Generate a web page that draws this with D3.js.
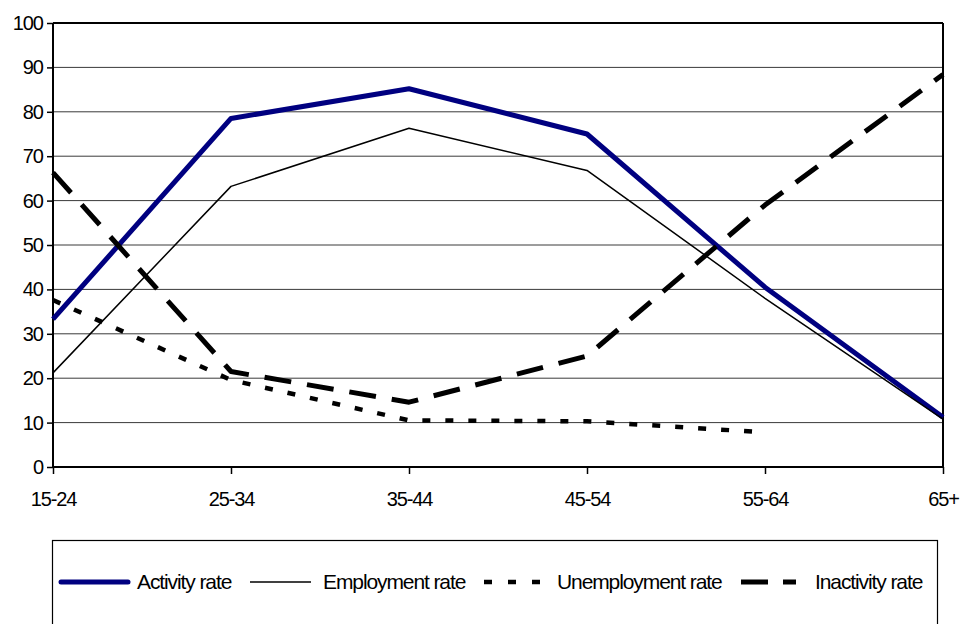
<!DOCTYPE html>
<html>
<head>
<meta charset="utf-8">
<script src="https://cdn.jsdelivr.net/npm/d3@7"></script>
<style>
  body { margin: 0; background: #fff; }
  svg { display: block; }
  text { font-family: "Liberation Sans", Arial, sans-serif; fill: #000; }
</style>
</head>
<body>
<svg width="960" height="624"></svg>
<script>
"use strict";

// data
const ageGroups = ["15-24", "25-34", "35-44", "45-54", "55-64", "65+"];
const activityRate = [33.3, 78.5, 85.2, 75.0, 40.5, 11.2];
const employmentRate = [21.2, 63.2, 76.3, 66.8, 38.0, 10.8];
const unemploymentRate = [37.6, 19.6, 10.5, 10.3, 7.8, null];
const inactivityRate = [66.3, 21.5, 14.6, 25.0, 59.0, 88.4];
const yTicks = [0, 10, 20, 30, 40, 50, 60, 70, 80, 90, 100];

const series = [
  {name: "Activity rate", values: activityRate, color: "#000080", width: 5, dash: null, lx: 61, lw: 67, tx: 137},
  {name: "Employment rate", values: employmentRate, color: "#000", width: 1.5, dash: null, lx: 250, lw: 61, tx: 323},
  {name: "Unemployment rate", values: unemploymentRate, color: "#000", width: 4.5, dash: "8,15", lx: 484, lw: 56, tx: 557},
  {name: "Inactivity rate", values: inactivityRate, color: "#000", width: 5, dash: "27,16", lx: 741, lw: 55, tx: 815}
];

const svg = d3.select("svg");
const plotL = 53, plotR = 943, plotT = 23, plotB = 467;

const x = d3.scalePoint().domain(ageGroups).range([plotL, plotR]);
const y = d3.scaleLinear().domain([0, 100]).range([plotB, plotT]);

// gridlines
svg.append("g").selectAll("line")
  .data(yTicks.slice(1))
  .join("line")
  .attr("x1", plotL).attr("x2", plotR)
  .attr("y1", d => y(d)).attr("y2", d => y(d))
  .attr("stroke", "#3a3a3a").attr("stroke-width", 1);

// plot border top and right
svg.append("line")
  .attr("x1", plotR).attr("x2", plotR).attr("y1", plotT).attr("y2", plotB)
  .attr("stroke", "#000").attr("stroke-width", 2);
svg.append("line")
  .attr("x1", plotL).attr("x2", plotR).attr("y1", plotT).attr("y2", plotT)
  .attr("stroke", "#000").attr("stroke-width", 2);

// y axis
const yAxis = svg.append("g")
  .attr("transform", `translate(${plotL},0)`)
  .call(d3.axisLeft(y).tickValues(yTicks).tickSize(6).tickPadding(4));
yAxis.select(".domain").attr("stroke-width", 2).attr("d", `M0,${plotT}V${plotB}`);
yAxis.selectAll(".tick line").attr("stroke-width", 1.5);
yAxis.selectAll("text")
  .style("font-family", "Liberation Sans, Arial, sans-serif")
  .style("font-size", "20px").style("letter-spacing", "-1px");

// x axis
const xAxis = svg.append("g")
  .attr("transform", `translate(0,${plotB})`)
  .call(d3.axisBottom(x).tickSize(7).tickPadding(18));
xAxis.select(".domain").attr("stroke-width", 2).attr("d", `M${plotL},0H${plotR}`);
xAxis.selectAll(".tick line").attr("stroke-width", 1.5);
xAxis.selectAll("text")
  .style("font-family", "Liberation Sans, Arial, sans-serif")
  .style("font-size", "20px").style("letter-spacing", "-1.1px");

// lines
const line = d3.line()
  .defined(d => d.v != null)
  .x(d => x(d.k))
  .y(d => y(d.v));

svg.append("g").selectAll("path")
  .data(series)
  .join("path")
  .attr("fill", "none")
  .attr("stroke", d => d.color)
  .attr("stroke-width", d => d.width)
  .attr("stroke-dasharray", d => d.dash)
  .attr("stroke-linejoin", "round")
  .attr("d", d => line(d.values.map((v, i) => ({k: ageGroups[i], v: v}))));

// legend
const legY = 582;
svg.append("rect")
  .attr("x", 52.5).attr("y", 540.5)
  .attr("width", 885).attr("height", 100)
  .attr("fill", "none").attr("stroke", "#000").attr("stroke-width", 1.2);

const leg = svg.append("g").selectAll("g")
  .data(series)
  .join("g");
leg.append("line")
  .attr("x1", d => d.lx).attr("x2", d => d.lx + d.lw)
  .attr("y1", legY).attr("y2", legY)
  .attr("stroke", d => d.color)
  .attr("stroke-width", d => d.width)
  .attr("stroke-linecap", (d, i) => i == 0 ? "round" : "butt")
  .attr("stroke-dasharray", (d, i) => i == 2 ? "8,16" : (i == 3 ? "27,15" : null));
leg.append("text")
  .attr("x", d => d.tx).attr("y", legY + 7)
  .style("font-size", "21px").style("letter-spacing", "-1.1px")
  .text(d => d.name);
</script>
</body>
</html>
